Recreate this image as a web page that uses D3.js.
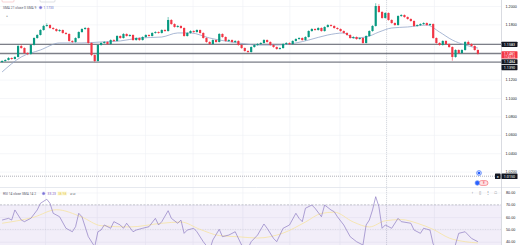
<!DOCTYPE html>
<html>
<head>
<meta charset="utf-8">
<script src="https://cdnjs.cloudflare.com/ajax/libs/d3/7.8.5/d3.min.js"></script>
<style>
body { margin: 0; background: #fff; }
svg { display: block; font-family: Roboto, "Liberation Sans", sans-serif; }
.axis text { fill: #131722; font-size: 3.7px; }
.axis .domain { display: none; }
.grid line { stroke: #eef0f5; stroke-width: 0.6; }
.grid .domain { display: none; }
</style>
</head>
<body>
<svg width="520" height="245"></svg>
<script>
// daily candles
var opens = [
1.1391,1.1402,1.1413,1.1435,1.1424,1.1446,1.1565,1.1543,1.1489,1.1478,
1.1576,1.1652,1.1685,1.1739,1.1783,1.1793,1.1761,1.1750,1.1728,1.1739,
1.1707,1.1696,1.1620,1.1609,1.1652,1.1717,1.1750,1.1761,1.1598,1.1467,
1.1402,1.1576,1.1598,1.1609,1.1587,1.1630,1.1620,1.1674,1.1652,1.1696,
1.1674,1.1685,1.1630,1.1652,1.1630,1.1663,1.1685,1.1674,1.1707,1.1717,
1.1707,1.1739,1.1728,1.1848,1.1804,1.1772,1.1783,1.1761,1.1674,1.1707,
1.1728,1.1717,1.1739,1.1707,1.1652,1.1609,1.1587,1.1630,1.1609,1.1696,
1.1663,1.1620,1.1630,1.1609,1.1620,1.1576,1.1543,1.1511,1.1500,1.1554,
1.1576,1.1587,1.1598,1.1630,1.1609,1.1576,1.1554,1.1533,1.1543,1.1587,
1.1598,1.1587,1.1620,1.1641,1.1652,1.1630,1.1663,1.1728,1.1750,1.1739,
1.1761,1.1728,1.1772,1.1793,1.1783,1.1761,1.1750,1.1728,1.1707,1.1685,
1.1652,1.1663,1.1641,1.1652,1.1598,1.1674,1.1728,1.1783,1.2000,1.1935,
1.1870,1.1924,1.1848,1.1815,1.1793,1.1891,1.1902,1.1880,1.1859,1.1837,
1.1783,1.1793,1.1804,1.1815,1.1793,1.1804,1.1652,1.1598,1.1576,1.1620,
1.1587,1.1554,1.1446,1.1522,1.1489,1.1522,1.1609,1.1587,1.1565,1.1522];
var highs = [
1.1412,1.1421,1.1444,1.1441,1.1455,1.1578,1.1582,1.1551,1.1497,1.1584,
1.1660,1.1694,1.1748,1.1795,1.1812,1.1801,1.1770,1.1757,1.1748,1.1745,
1.1716,1.1703,1.1628,1.1660,1.1725,1.1759,1.1772,1.1768,1.1605,1.1474,
1.1584,1.1607,1.1618,1.1616,1.1638,1.1639,1.1683,1.1681,1.1705,1.1703,
1.1694,1.1692,1.1661,1.1659,1.1671,1.1693,1.1692,1.1715,1.1726,1.1724,
1.1747,1.1748,1.1880,1.1857,1.1812,1.1792,1.1790,1.1768,1.1715,1.1737,
1.1736,1.1747,1.1745,1.1714,1.1660,1.1617,1.1639,1.1637,1.1706,1.1703,
1.1670,1.1639,1.1637,1.1628,1.1627,1.1583,1.1550,1.1519,1.1562,1.1584,
1.1596,1.1606,1.1640,1.1637,1.1616,1.1584,1.1561,1.1552,1.1595,1.1607,
1.1605,1.1628,1.1650,1.1661,1.1659,1.1671,1.1736,1.1760,1.1758,1.1770,
1.1768,1.1780,1.1803,1.1801,1.1790,1.1769,1.1757,1.1735,1.1714,1.1693,
1.1672,1.1670,1.1660,1.1659,1.1682,1.1736,1.1792,1.2030,1.2020,1.1945,
1.1933,1.1931,1.1856,1.1822,1.1900,1.1912,1.1909,1.1887,1.1866,1.1844,
1.1801,1.1812,1.1823,1.1822,1.1812,1.1811,1.1659,1.1606,1.1628,1.1627,
1.1594,1.1561,1.1530,1.1529,1.1530,1.1618,1.1624,1.1594,1.1572,1.1529];
var lows = [
1.1383,1.1395,1.1408,1.1416,1.1418,1.1440,1.1535,1.1480,1.1466,1.1470,
1.1570,1.1644,1.1679,1.1731,1.1774,1.1752,1.1741,1.1720,1.1719,1.1699,
1.1688,1.1612,1.1598,1.1602,1.1645,1.1709,1.1741,1.1590,1.1455,1.1389,
1.1396,1.1568,1.1590,1.1579,1.1580,1.1611,1.1614,1.1644,1.1646,1.1667,
1.1666,1.1622,1.1623,1.1622,1.1624,1.1656,1.1666,1.1668,1.1699,1.1699,
1.1700,1.1720,1.1721,1.1796,1.1764,1.1764,1.1753,1.1666,1.1667,1.1699,
1.1709,1.1710,1.1699,1.1645,1.1601,1.1578,1.1580,1.1601,1.1603,1.1655,
1.1612,1.1611,1.1601,1.1600,1.1568,1.1535,1.1503,1.1489,1.1493,1.1547,
1.1568,1.1579,1.1591,1.1601,1.1569,1.1546,1.1524,1.1525,1.1536,1.1579,
1.1578,1.1580,1.1613,1.1633,1.1622,1.1623,1.1656,1.1720,1.1731,1.1732,
1.1720,1.1721,1.1765,1.1775,1.1753,1.1742,1.1720,1.1699,1.1677,1.1644,
1.1645,1.1633,1.1634,1.1589,1.1592,1.1667,1.1720,1.1776,1.1926,1.1861,
1.1862,1.1840,1.1807,1.1785,1.1786,1.1882,1.1872,1.1851,1.1829,1.1775,
1.1775,1.1785,1.1796,1.1785,1.1786,1.1644,1.1590,1.1568,1.1569,1.1580,
1.1546,1.1405,1.1438,1.1481,1.1480,1.1514,1.1579,1.1557,1.1514,1.1472];
var closes = [
1.1402,1.1413,1.1435,1.1424,1.1446,1.1565,1.1543,1.1489,1.1478,1.1576,
1.1652,1.1685,1.1739,1.1783,1.1793,1.1761,1.1750,1.1728,1.1739,1.1707,
1.1696,1.1620,1.1609,1.1652,1.1717,1.1750,1.1761,1.1598,1.1467,1.1402,
1.1576,1.1598,1.1609,1.1587,1.1630,1.1620,1.1674,1.1652,1.1696,1.1674,
1.1685,1.1630,1.1652,1.1630,1.1663,1.1685,1.1674,1.1707,1.1717,1.1707,
1.1739,1.1728,1.1848,1.1804,1.1772,1.1783,1.1761,1.1674,1.1707,1.1728,
1.1717,1.1739,1.1707,1.1652,1.1609,1.1587,1.1630,1.1609,1.1696,1.1663,
1.1620,1.1630,1.1609,1.1620,1.1576,1.1543,1.1511,1.1500,1.1554,1.1576,
1.1587,1.1598,1.1630,1.1609,1.1576,1.1554,1.1533,1.1543,1.1587,1.1598,
1.1587,1.1620,1.1641,1.1652,1.1630,1.1663,1.1728,1.1750,1.1739,1.1761,
1.1728,1.1772,1.1793,1.1783,1.1761,1.1750,1.1728,1.1707,1.1685,1.1652,
1.1663,1.1641,1.1652,1.1598,1.1674,1.1728,1.1783,1.2000,1.1935,1.1870,
1.1924,1.1848,1.1815,1.1793,1.1891,1.1902,1.1880,1.1859,1.1837,1.1783,
1.1793,1.1804,1.1815,1.1793,1.1804,1.1652,1.1598,1.1576,1.1620,1.1587,
1.1554,1.1446,1.1522,1.1489,1.1522,1.1609,1.1587,1.1565,1.1522,1.1481];

// moving average (sampled at bars)
var maBars = [0,6,12,18,25,31,37,43,50,55,59,65,74,80,86,92,96,102,107,110,114,118,122,127,133,137,141,145,149];
var maVals = [1.1283,1.1446,1.1522,1.1598,1.1598,1.1609,1.1620,1.1652,1.1663,1.1707,1.1707,1.1652,1.1598,1.1576,1.1576,1.1598,1.1630,1.1685,1.1707,1.1652,1.1663,1.1717,1.1761,1.1772,1.1793,1.1717,1.1630,1.1576,1.1543];

// RSI 14 and its SMA
var rsiBars = [0,2,3,4,6,7,9,11,12,14,15,16,18,20,22,23,24,25,27,29,30,31,32,34,35,37,38,39,41,42,44,46,48,49,50,52,53,55,56,57,58,60,61,63,65,66,68,69,71,73,75,77,78,80,82,83,85,86,88,90,92,93,94,95,97,98,100,101,103,104,105,107,109,111,113,114,115,116,117,118,119,120,122,124,125,128,129,131,132,134,135,138,141,143,145,147,149];
var rsiVals = [57.6,59.0,57.6,65.8,57.6,56.3,59.0,65.8,71.2,74.5,71.2,63.1,60.3,50.9,48.1,52.2,63.1,60.3,44.1,35.9,48.1,49.5,53.6,50.9,56.3,53.6,50.9,55.0,48.1,49.5,50.9,52.2,59.0,53.6,56.3,65.2,59.0,55.0,57.6,46.8,49.5,50.9,48.1,40.0,33.3,41.4,50.1,44.1,45.4,48.1,37.3,34.6,40.0,45.4,54.4,50.9,42.7,40.0,50.9,53.6,63.1,59.0,56.3,67.2,69.8,67.2,60.3,69.8,65.8,64.4,60.3,53.6,44.1,40.0,37.3,53.6,57.6,65.8,76.6,68.5,50.9,53.6,50.9,59.0,56.3,55.0,49.5,46.8,50.9,49.5,38.0,30.0,29.0,46.8,48.1,42.7,40.0];
var rsiMaBars = [0,10,17,25,31,40,50,56,62,68,74,80,88,95,100,104,110,115,120,125,130,135,140,145,149];
var rsiMaVals = [55,60,66,60,53,52,55,56,50,45,44,43,47,56,63,64,56,52,57,58,55,50,43,40,39];

var priceTicks = [1.20, 1.18, 1.16, 1.14, 1.12, 1.10, 1.08, 1.06, 1.04, 1.02];
var rsiTicks = [80, 70, 60, 50, 40];
var levelPrices = [1.1583, 1.1484, 1.1390];
var alertPrice = 1.0150;
var countdown = '17:45:24';
var gridBars = [13.6, 29.8, 44.9, 59.8, 75.4, 90.1, 105.8, 120.4, 135.4];
var sessionBar = 120.4;

var svg = d3.select('svg');
var W = +svg.attr('width'), H = +svg.attr('height');
var axisX = 501;
var paneSplit = 187.5;
var N = closes.length;

var bars = d3.range(N).map(function(i) {
    return {i: i, o: opens[i], h: highs[i], l: lows[i], c: closes[i]};
});

var xBand = d3.scaleBand().domain(d3.range(N)).range([0, 480]).padding(0.32);
var bw = xBand.bandwidth();
var xLin = d3.scaleLinear().domain([0, N - 1]).range([xBand(0) + bw / 2, xBand(N - 1) + bw / 2]);
var yPrice = d3.scaleLinear().domain([1.20, 1.02]).range([6, 171.6]);
var yRsi = d3.scaleLinear().domain([80, 40]).range([192.5, 241.7]);

var defs = svg.append('defs');
defs.append('clipPath').attr('id', 'pricePane')
    .append('rect').attr('x', 0).attr('y', 0).attr('width', axisX).attr('height', paneSplit);
defs.append('clipPath').attr('id', 'rsiPane')
    .append('rect').attr('x', 0).attr('y', paneSplit).attr('width', axisX).attr('height', H - paneSplit);

// grids
svg.append('g').attr('class', 'grid')
    .selectAll('line').data(gridBars).enter().append('line')
    .attr('x1', function(d) { return xLin(d); }).attr('x2', function(d) { return xLin(d); })
    .attr('y1', 0).attr('y2', H);

svg.append('g').attr('class', 'grid')
    .attr('transform', 'translate(' + axisX + ',0)')
    .call(d3.axisLeft(yPrice).tickValues(priceTicks).tickSize(axisX).tickFormat(''));

svg.append('g').attr('class', 'grid')
    .attr('transform', 'translate(' + axisX + ',0)')
    .call(d3.axisLeft(yRsi).tickValues(rsiTicks).tickSize(axisX).tickFormat(''));

svg.append('line')
    .attr('x1', xLin(sessionBar)).attr('x2', xLin(sessionBar))
    .attr('y1', 0).attr('y2', H)
    .attr('stroke', '#b8bcc8').attr('stroke-width', 0.5).attr('stroke-dasharray', '1,1');

// RSI band
var rsiG = svg.append('g').attr('clip-path', 'url(#rsiPane)');
rsiG.append('rect')
    .attr('x', 0).attr('width', axisX)
    .attr('y', yRsi(70)).attr('height', yRsi(30) - yRsi(70))
    .attr('fill', 'rgba(126,87,194,0.1)');
rsiG.selectAll('.band-line').data([70, 30]).enter().append('line')
    .attr('class', 'band-line')
    .attr('x1', 0).attr('x2', axisX)
    .attr('y1', function(d) { return yRsi(d); }).attr('y2', function(d) { return yRsi(d); })
    .attr('stroke', '#9598a1').attr('stroke-width', 0.5).attr('stroke-dasharray', '2,1.5');
rsiG.append('line')
    .attr('x1', 0).attr('x2', axisX).attr('y1', yRsi(50)).attr('y2', yRsi(50))
    .attr('stroke', '#9598a1').attr('stroke-opacity', 0.4).attr('stroke-width', 0.5).attr('stroke-dasharray', '1,1.5');

// pane separator
svg.append('line')
    .attr('x1', 0).attr('x2', W).attr('y1', paneSplit).attr('y2', paneSplit)
    .attr('stroke', '#e0e3eb').attr('stroke-width', 0.8);

var priceG = svg.append('g').attr('clip-path', 'url(#pricePane)');

// horizontal levels
priceG.selectAll('.level').data(levelPrices).enter().append('line')
    .attr('class', 'level')
    .attr('x1', 0).attr('x2', axisX)
    .attr('y1', function(d) { return yPrice(d); }).attr('y2', function(d) { return yPrice(d); })
    .attr('stroke', '#7d7f88').attr('stroke-width', 1.4);

// moving average
var maLine = d3.line()
    .x(function(d, i) { return xLin(maBars[i]); })
    .y(function(d) { return yPrice(d); })
    .curve(d3.curveMonotoneX);
priceG.append('path').datum(maVals)
    .attr('d', maLine)
    .attr('fill', 'none').attr('stroke', '#93a6c9').attr('stroke-width', 0.8);

// candles
var up = '#089981', down = '#f23645';
var candle = priceG.selectAll('.candle').data(bars).enter().append('g').attr('class', 'candle');
candle.append('line')
    .attr('x1', function(d) { return xBand(d.i) + bw / 2; })
    .attr('x2', function(d) { return xBand(d.i) + bw / 2; })
    .attr('y1', function(d) { return yPrice(d.h); })
    .attr('y2', function(d) { return yPrice(d.l); })
    .attr('stroke', function(d) { return d.c >= d.o ? up : down; })
    .attr('stroke-width', 0.55);
candle.append('rect')
    .attr('x', function(d) { return xBand(d.i); })
    .attr('width', bw)
    .attr('y', function(d) { return yPrice(Math.max(d.o, d.c)); })
    .attr('height', function(d) { return Math.max(0.6, Math.abs(yPrice(d.o) - yPrice(d.c))); })
    .attr('fill', function(d) { return d.c >= d.o ? up : down; });

// alert line
priceG.append('line')
    .attr('x1', 0).attr('x2', axisX)
    .attr('y1', yPrice(alertPrice)).attr('y2', yPrice(alertPrice))
    .attr('stroke', '#787b86').attr('stroke-width', 0.6).attr('stroke-dasharray', '1,1');

// event markers
svg.append('circle').attr('cx', 479).attr('cy', 173).attr('r', 2.4)
    .attr('fill', '#dfe6fb').attr('stroke', '#2962ff').attr('stroke-width', 0.6);
svg.append('circle').attr('cx', 479).attr('cy', 173).attr('r', 1.3).attr('fill', '#2962ff');
svg.append('rect').attr('x', 479).attr('y', 180.6).attr('width', 9).attr('height', 4.8).attr('rx', 2.4)
    .attr('fill', '#fde1e3').attr('stroke', '#f23645').attr('stroke-width', 0.5);
svg.append('text').attr('x', 483.8).attr('y', 184.2).attr('text-anchor', 'middle')
    .attr('font-size', 3).attr('fill', '#f23645').text('E');
svg.append('circle').attr('cx', 477.3).attr('cy', 183).attr('r', 2.4)
    .attr('fill', '#2962ff').attr('stroke', '#a9bdf6').attr('stroke-width', 0.6);

// RSI lines
var rsiMaLine = d3.line()
    .x(function(d, i) { return xLin(rsiMaBars[i]); })
    .y(function(d) { return yRsi(d); })
    .curve(d3.curveMonotoneX);
rsiG.append('path').datum(rsiMaVals)
    .attr('d', rsiMaLine)
    .attr('fill', 'none').attr('stroke', '#f6e3a1').attr('stroke-width', 0.8);

var rsiLine = d3.line()
    .x(function(d, i) { return xLin(rsiBars[i]); })
    .y(function(d) { return yRsi(d); });
rsiG.append('path').datum(rsiVals)
    .attr('d', rsiLine)
    .attr('fill', 'none').attr('stroke', '#8e7cc3').attr('stroke-width', 0.7);

// right scale
svg.append('line')
    .attr('x1', axisX + 0.5).attr('x2', axisX + 0.5).attr('y1', 0).attr('y2', H)
    .attr('stroke', '#c9ccd4').attr('stroke-width', 0.7);

var lastPrice = closes[N - 1];
var labels = [
    {v: levelPrices[0], bg: '#131722', h: 5.2},
    {v: lastPrice, bg: '#f23645', h: 7.4, sub: countdown},
    {v: levelPrices[1], bg: '#131722', h: 5.2},
    {v: levelPrices[2], bg: '#131722', h: 5.2}
];
var prevBottom = -Infinity;
labels.forEach(function(d) {
    var top = yPrice(d.v) - 2.6;
    if (top < prevBottom + 0.6) top = prevBottom + 0.6;
    d.top = top;
    prevBottom = top + d.h;
});

var shownTicks = priceTicks.filter(function(t) {
    return labels.every(function(d) {
        var y = yPrice(t);
        return y < d.top - 1.5 || y > d.top + d.h + 1.5;
    });
});

svg.append('g').attr('class', 'axis')
    .attr('transform', 'translate(' + axisX + ',0)')
    .call(d3.axisRight(yPrice).tickValues(shownTicks).tickSize(0).tickPadding(4.5).tickFormat(d3.format('.4f')));

svg.append('g').attr('class', 'axis')
    .attr('transform', 'translate(' + axisX + ',0)')
    .call(d3.axisRight(yRsi).tickValues(rsiTicks).tickSize(0).tickPadding(5).tickFormat(d3.format('.2f')));

var lab = svg.selectAll('.plabel').data(labels).enter().append('g').attr('class', 'plabel');
lab.append('rect')
    .attr('x', axisX + 0.5).attr('width', 16)
    .attr('y', function(d) { return d.top; })
    .attr('height', function(d) { return d.h; })
    .attr('rx', 0.6)
    .attr('fill', function(d) { return d.bg; });
lab.append('text')
    .attr('x', axisX + 8.5)
    .attr('y', function(d) { return d.top + 3.9; })
    .attr('text-anchor', 'middle').attr('font-size', 3.7).attr('fill', '#fff')
    .text(function(d) { return d3.format('.4f')(d.v); });
lab.filter(function(d) { return d.sub; }).append('text')
    .attr('x', axisX + 8.5)
    .attr('y', function(d) { return d.top + 6.8; })
    .attr('text-anchor', 'middle').attr('font-size', 2.9).attr('fill', '#ffe0e3')
    .text(function(d) { return d.sub; });

var ay = yPrice(alertPrice);
svg.append('rect').attr('x', axisX + 0.5).attr('y', ay - 2.8).attr('width', 16).attr('height', 5.6)
    .attr('rx', 0.6).attr('fill', '#131722');
svg.append('text').attr('x', axisX + 8.5).attr('y', ay + 1.3).attr('text-anchor', 'middle')
    .attr('font-size', 3.7).attr('fill', '#fff').text(d3.format('.4f')(alertPrice));
svg.append('rect').attr('x', axisX - 6).attr('y', ay - 2.8).attr('width', 5.6).attr('height', 5.6)
    .attr('rx', 0.6).attr('fill', '#131722');
svg.append('text').attr('x', axisX - 3.2).attr('y', ay + 1.3).attr('text-anchor', 'middle')
    .attr('font-size', 4).attr('fill', '#fff').text('×');

// legends
svg.append('rect').attr('x', 2).attr('y', -3).attr('width', 12).attr('height', 5).attr('rx', 1)
    .attr('fill', 'none').attr('stroke', '#f5b5ba').attr('stroke-width', 0.6);
svg.append('rect').attr('x', 40).attr('y', -3).attr('width', 15).attr('height', 5).attr('rx', 1)
    .attr('fill', 'none').attr('stroke', '#c9ccd4').attr('stroke-width', 0.6);

svg.append('text').attr('x', 3).attr('y', 8.8).attr('font-size', 3.3).attr('fill', '#5d606b')
    .text('SMA 21 close 0 SMA 9');
svg.append('circle').attr('cx', 40.6).attr('cy', 7.6).attr('r', 1.5)
    .attr('fill', '#7b74d6').attr('stroke', '#c8c4f0').attr('stroke-width', 0.5);
svg.append('text').attr('x', 43.6).attr('y', 8.8).attr('font-size', 3.3).attr('fill', '#6a73c9')
    .text(d3.format('.4f')(1.1733));
svg.append('text').attr('x', 6.3).attr('y', 17.6).attr('font-size', 3.6).attr('fill', '#5d606b').text('^');

svg.append('text').attr('x', 3).attr('y', 194.6).attr('font-size', 3.3).attr('fill', '#5d606b')
    .text('RSI 14 close SMA 14 2');
svg.append('circle').attr('cx', 43.6).attr('cy', 193.4).attr('r', 1.5)
    .attr('fill', '#7b74d6').attr('stroke', '#c8c4f0').attr('stroke-width', 0.5);
svg.append('text').attr('x', 47.6).attr('y', 194.6).attr('font-size', 3.3).attr('fill', '#7e57c2').text('33.23');
svg.append('rect').attr('x', 57.4).attr('y', 191.4).attr('width', 9.5).attr('height', 4.2).attr('fill', '#fffbe0');
svg.append('text').attr('x', 58).attr('y', 194.6).attr('font-size', 3.3).attr('fill', '#e3c84b').text('38.98');
svg.append('text').attr('x', 69.6).attr('y', 194.6).attr('font-size', 3.3).attr('fill', '#434651').text('∅ ∅');

svg.append('g').selectAll('text').data(['↑', '▯', '⋮', '□']).enter().append('text')
    .attr('x', function(d, i) { return 472.5 + i * 7.7; })
    .attr('y', 194.3)
    .attr('text-anchor', 'middle').attr('font-size', 3.8).attr('fill', '#6a6d78')
    .text(function(d) { return d; });
</script>
</body>
</html>
